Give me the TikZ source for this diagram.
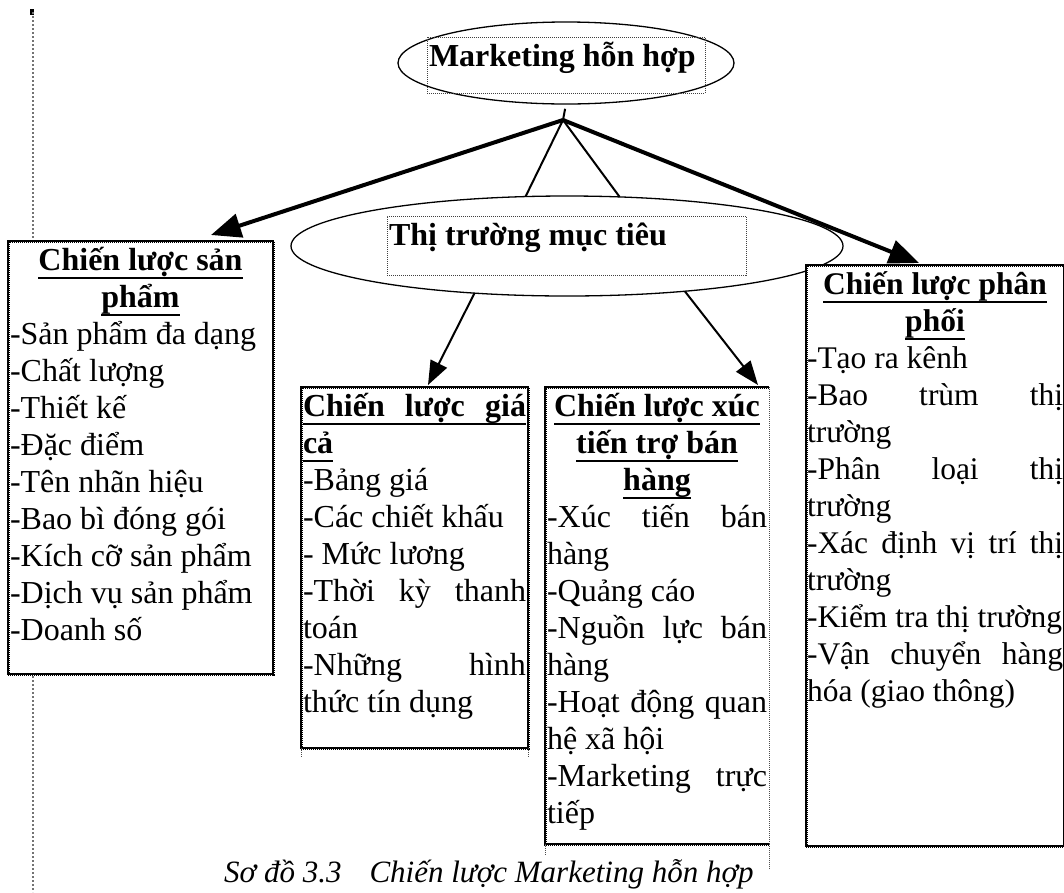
\documentclass[tikz,border=0pt]{standalone}
\usepackage{fontspec}
\setmainfont{Liberation Serif}
\usetikzlibrary{arrows.meta,calc,shapes.geometric}

% bold underlined heading
\newcommand\ttl[1]{\setbox0\hbox{\bfseries#1}\rlap{\rule[-9pt]{\wd0}{2.2pt}}\box0}
% one text line of fixed height; #1 = l, c or s (justified)
\newcommand\Line[2]{\noindent\rule{0pt}{29pt}\smash{\makebox[\linewidth][#1]{#2}}\par}
% fixed-size text panel: height, width, lines
\newcommand\panel[3]{\parbox[t][#1][t]{#2}{#3}}

\tikzset{
  oval/.style={ellipse, draw=black, line width=1.3pt, inner sep=0pt, outer sep=0pt},
  labelframe/.style={draw=black!75, line width=1pt, dash pattern=on 1pt off 1pt,
    inner xsep=2pt, inner ysep=0pt, outer sep=0pt, anchor=north west,
    font=\fontsize{32}{37}\selectfont},
  panelbox/.style={fill=white, inner xsep=2pt, inner ysep=0pt, outer sep=0pt,
    anchor=north west, font=\fontsize{32}{37}\selectfont},
  framelines/.style={draw=black, line width=1.2pt,
    postaction={draw=black, line width=3pt, dash pattern=on 1pt off 1pt}},
  framed/.style={panelbox, framelines},
  thinedge/.style={draw=black!70, line width=1pt, dash pattern=on 1pt off 1pt},
  guide/.style={draw=black!55, line width=1.6pt, dash pattern=on 1.6pt off 2.4pt},
  bigarrow/.style={draw=black, line width=4pt, -{Triangle[length=30pt,width=24pt]}},
  smallarrow/.style={draw=black, line width=2pt, -{Triangle[length=24pt,width=18pt]}},
  plainline/.style={draw=black, line width=2pt},
}

\begin{document}
\begin{tikzpicture}[x=1pt, y=-1pt]
\clip (0,0) rectangle (1064,892);

% margin guide on the left
\fill[black] (30,9) rectangle (34,15);
\draw[guide] (33,12) -- (33,892);

% the two ellipses with their text frames
\node[oval, minimum width=336pt, minimum height=82pt] (mix) at (566,63) {};
\node[oval, minimum width=552pt, minimum height=100pt] (target) at (567,246) {};

\node[labelframe] (mixlabel) at (427,37)
  {\panel{56pt}{274pt}{\Line{l}{\bfseries Marketing hỗn hợp}}};
\node[labelframe] (targetlabel) at (387,216)
  {\panel{59pt}{355pt}{\Line{l}{\bfseries Thị trường mục tiêu}}};

% strategy panels
\node[framed] (prod) at (8,241) {\panel{433pt}{261pt}{%
  \Line{c}{\ttl{Chiến lược sản}}
  \Line{c}{\ttl{phẩm}}
  \Line{l}{-Sản phẩm đa dạng}
  \Line{l}{-Chất lượng}
  \Line{l}{-Thiết kế}
  \Line{l}{-Đặc điểm}
  \Line{l}{-Tên nhãn hiệu}
  \Line{l}{-Bao bì đóng gói}
  \Line{l}{-Kích cỡ sản phẩm}
  \Line{l}{-Dịch vụ sản phẩm}
  \Line{l}{-Doanh số}}};

\node[framed] (price) at (301,387) {\panel{361pt}{223pt}{%
  \Line{l}{\ttl{\makebox[\linewidth][s]{Chiến lược giá}}}
  \Line{l}{\ttl{cả}}
  \Line{l}{-Bảng giá}
  \Line{l}{-Các chiết khấu}
  \Line{l}{- Mức lương}
  \Line{s}{-Thời kỳ thanh}
  \Line{l}{toán}
  \Line{s}{-Những hình}
  \Line{l}{thức tín dụng}}};

\node[panelbox] (promo) at (545,387) {\panel{457pt}{220pt}{%
  \Line{c}{\ttl{Chiến lược xúc}}
  \Line{c}{\ttl{tiến trợ bán}}
  \Line{c}{\ttl{hàng}}
  \Line{s}{-Xúc tiến bán}
  \Line{l}{hàng}
  \Line{l}{-Quảng cáo}
  \Line{s}{-Nguồn lực bán}
  \Line{l}{hàng}
  \Line{s}{-Hoạt động quan}
  \Line{l}{hệ xã hội}
  \Line{s}{-Marketing trực}
  \Line{l}{tiếp}}};
\draw[framelines] (promo.north east) -- (promo.north west) -- (promo.south west) -- (promo.south east);
\draw[thinedge] (promo.north east) -- (promo.south east);

\node[framed, inner xsep=1pt, font=\fontsize{31.5}{37}\selectfont] (dist) at (806,265) {\panel{581pt}{256pt}{%
  \Line{c}{\ttl{Chiến lược phân}}
  \Line{c}{\ttl{phối}}
  \Line{l}{-Tạo ra kênh}
  \Line{s}{-Bao trùm thị}
  \Line{l}{trường}
  \Line{s}{-Phân loại thị}
  \Line{l}{trường}
  \Line{s}{-Xác định vị trí thị}
  \Line{l}{trường}
  \Line{l}{-Kiểm tra thị trường}
  \Line{s}{-Vận chuyển hàng}
  \Line{l}{hóa (giao thông)}}};

% short frame stubs under the lower panels
\draw[thinedge] (price.south west) -- ++(0,10);
\draw[thinedge] (price.south east) -- ++(0,10);
\draw[thinedge] (promo.south west) -- ++(0,12);
\draw[thinedge] (promo.south east) -- ++(0,26);

% connectors
\coordinate (apex) at (563,120);
\draw[plainline] (apex) -- ($(apex)!0.7!(mix.south)$);
\draw[plainline] (apex) -- (target.130);
\draw[plainline] (apex) -- (target.43);
\draw[bigarrow] (apex) -- ([shift={(-62,-6)}]prod.north east);
\draw[bigarrow] (apex) -- ([shift={(113,-2)}]dist.north west);
\draw[smallarrow] (target.207) -- ([shift={(127,-2)}]price.north west);
\draw[smallarrow] (target.-21) -- ([shift={(-11,-2)}]promo.north east);

% caption
\node[anchor=base west, inner sep=0pt, font=\fontsize{31}{37}\selectfont\itshape] (caption) at (224,882)
  {Sơ đồ 3.3\hspace{28pt}Chiến lược Marketing hỗn hợp};
\end{tikzpicture}
\end{document}
